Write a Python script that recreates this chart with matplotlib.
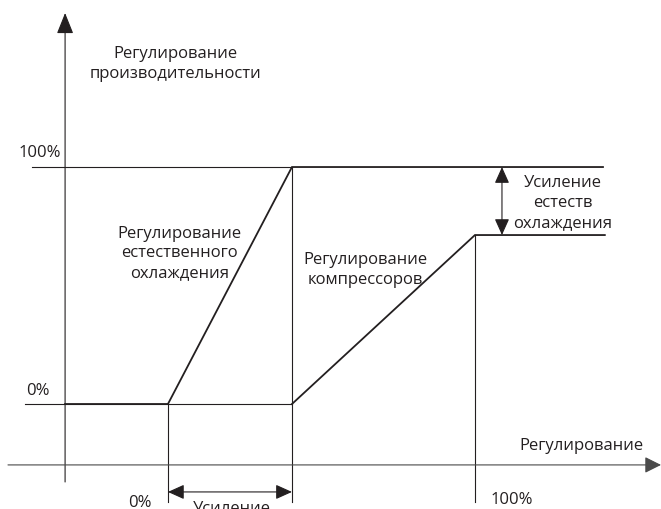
import numpy as np
import matplotlib
matplotlib.use("Agg")
import matplotlib.pyplot as plt

plt.rcParams['font.family'] = ['Open Sans', 'DejaVu Sans']

# regulation signal (%) vs capacity (%)
free_x = [-33.5, 0, 40.4, 141.7]
free_y = [0, 0, 100, 100]
comp_x = [40.4, 100, 142.3]
comp_y = [0, 71.3, 71.3]
comp_max = 71.3

ink = '#231f20'
fs = 12
ls = 1.3
thin, thick = 0.8, 1.3

fig = plt.figure(figsize=(6.61, 5.10), dpi=100)
ax = fig.add_axes([0, 0, 1, 1])
ax.set_xlim(-54.7, 160.6)
ax.set_ylim(-44.3, 170.9)
ax.axis('off')

# guide lines
ax.plot([-46.6, 40.4], [0, 0], color=ink, lw=thin)
ax.plot([-44.3, 40.4], [100, 100], color=ink, lw=thin)
ax.plot([0, 0], [0, -41.4], color=ink, lw=thin)
ax.plot([40.4, 40.4], [100, -41.4], color=ink, lw=thin)
ax.plot([100, 100], [comp_max, -41.4], color=ink, lw=thin)

# curves
ax.plot(free_x, free_y, color=ink, lw=thick, solid_joinstyle='miter')
ax.plot(comp_x, comp_y, color=ink, lw=thick, solid_joinstyle='miter')

# axes with arrows
ax.annotate('', xy=(-33.5, 165), xytext=(-33.5, -32.9),
            arrowprops=dict(arrowstyle='-|>,head_length=1.3,head_width=0.52',
                            mutation_scale=10, color=ink, lw=thin,
                            shrinkA=0, shrinkB=0))
ax.annotate('', xy=(160.6, -25.7), xytext=(-52.1, -25.7),
            arrowprops=dict(arrowstyle='-|>,head_length=1.0,head_width=0.5',
                            mutation_scale=10, color='#4a4a4a', lw=thin,
                            shrinkA=0, shrinkB=0))

# double arrows
ax.annotate('', xy=(108.8, comp_max), xytext=(108.8, 100),
            arrowprops=dict(arrowstyle='<|-|>,head_length=1.0,head_width=0.45',
                            mutation_scale=10, color=ink, lw=thin,
                            shrinkA=0, shrinkB=0))
ax.annotate('', xy=(40.4, -37.1), xytext=(0, -37.1),
            arrowprops=dict(arrowstyle='<|-|>,head_length=1.0,head_width=0.45',
                            mutation_scale=10, color=ink, lw=thin,
                            shrinkA=0, shrinkB=0))

# texts
ax.text(2.6, 143.9, 'Регулирование\nпроизводительности', ha='center', va='center',
        fontsize=fs, color=ink, linespacing=ls)
ax.text(-41.8, 106.3, '100%', ha='center', va='center', fontsize=fs, color=ink)
ax.text(-42.5, 5.9, '0%', ha='center', va='center', fontsize=fs, color=ink)
ax.text(3.9, 64.1, 'Регулирование\nестественного\nохлаждения', ha='center',
        va='center', fontsize=fs, color=ink, linespacing=ls)
ax.text(64.2, 57.0, 'Регулирование\nкомпрессоров', ha='center', va='center',
        fontsize=fs, color=ink, linespacing=ls)
ax.text(128.7, 85.2, 'Усиление\nестеств\nохлаждения', ha='center', va='center',
        fontsize=fs, color=ink, linespacing=ls)
ax.text(134.8, -17.3, 'Регулирование', ha='center', va='center', fontsize=fs, color=ink)
ax.text(-9.1, -41.4, '0%', ha='center', va='center', fontsize=fs, color=ink)
ax.text(112.0, -40.1, '100%', ha='center', va='center', fontsize=fs, color=ink)
ax.text(20.8, -44.0, 'Усиление', ha='center', va='center', fontsize=fs, color=ink)

fig.savefig('out.png', dpi=100)
